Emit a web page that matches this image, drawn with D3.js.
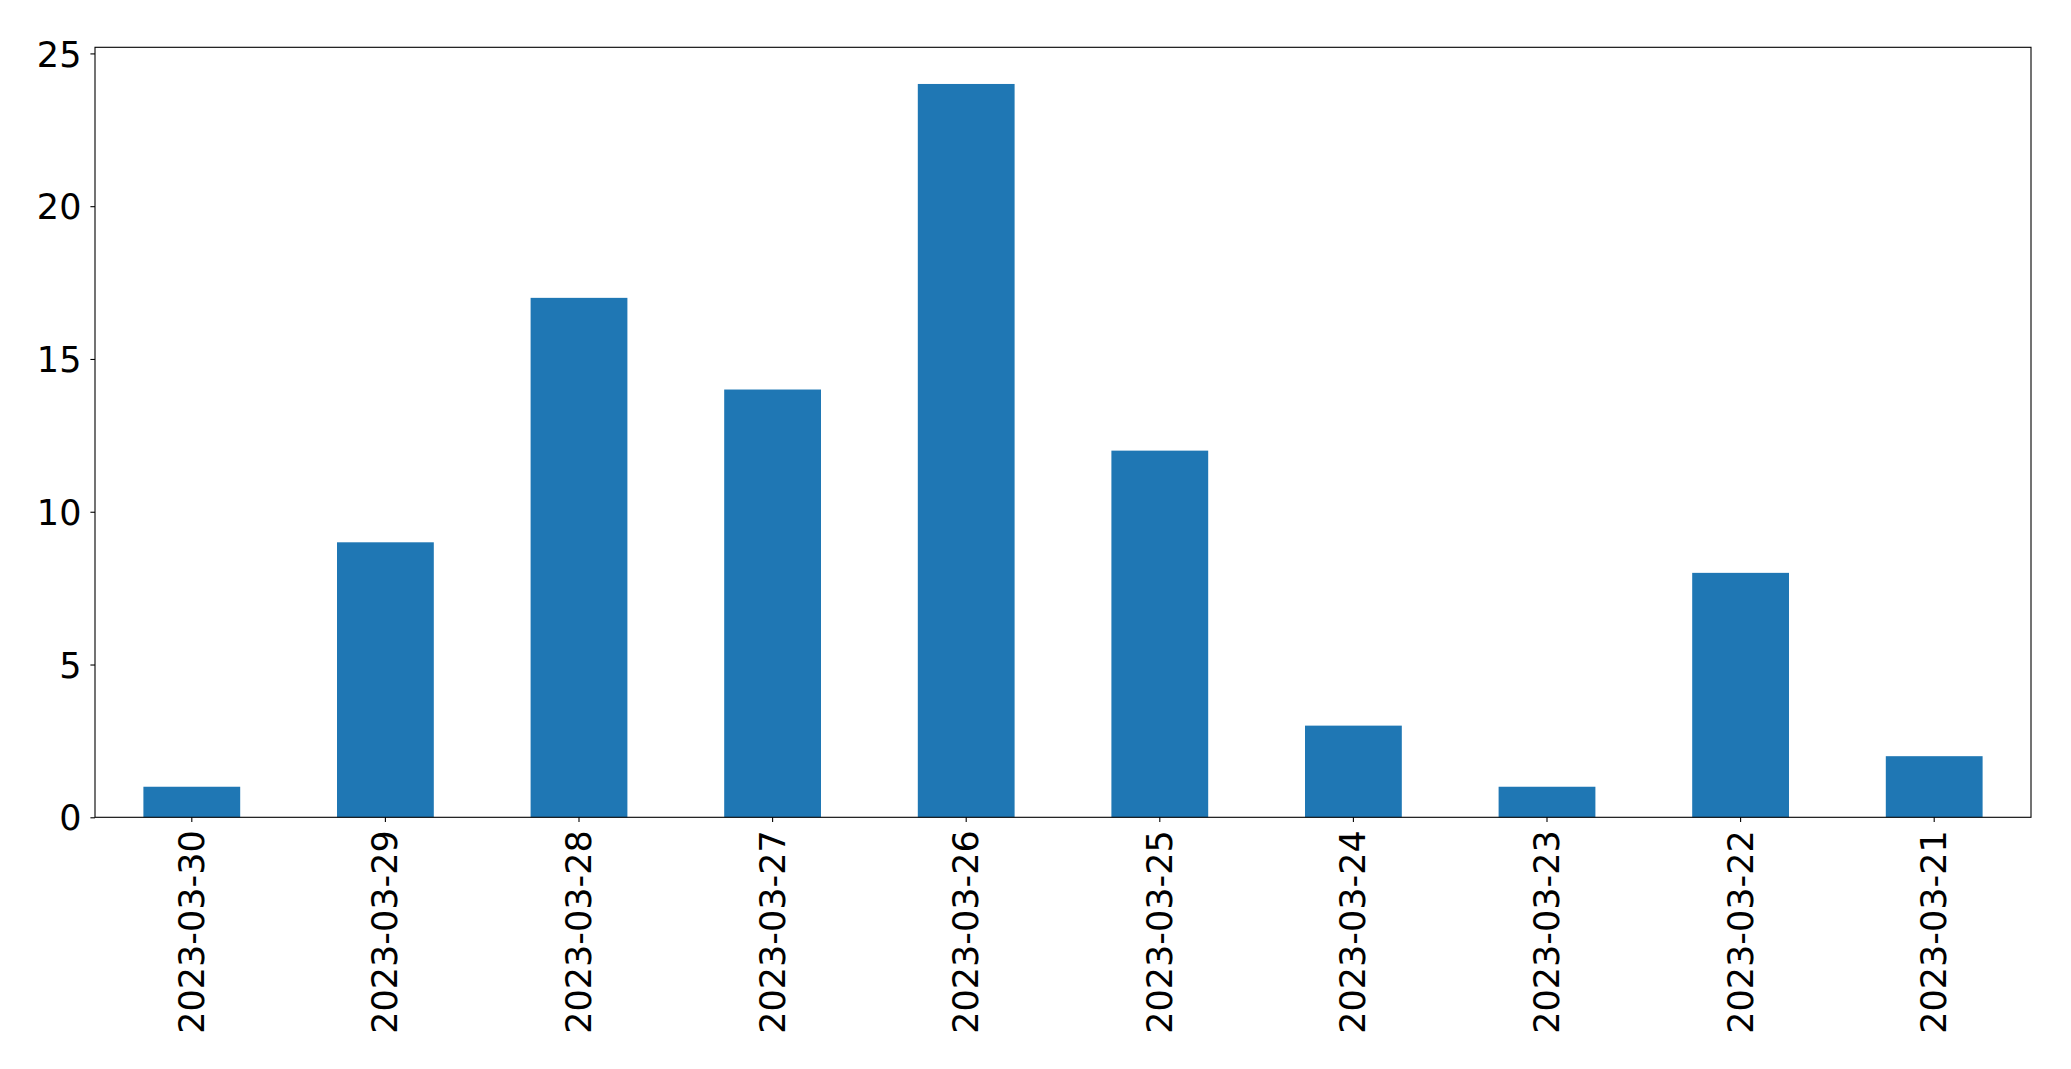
<!DOCTYPE html>
<html>
<head>
<meta charset="utf-8">
<script src="https://cdn.jsdelivr.net/npm/d3@7"></script>
<style>
  html, body { margin: 0; padding: 0; background: #fff; }
  svg { display: block; }
  text { font-family: "DejaVu Sans", sans-serif; fill: #000; }
</style>
</head>
<body>
<svg id="chart" width="2071" height="1069"></svg>
<script>
const categories = ["2023-03-30","2023-03-29","2023-03-28","2023-03-27","2023-03-26","2023-03-25","2023-03-24","2023-03-23","2023-03-22","2023-03-21"];
const values = [1, 9, 17, 14, 24, 12, 3, 1, 8, 2];
const yTicks = [0, 5, 10, 15, 20, 25];

const svg = d3.select("#chart");
const plotLeft = 95, plotRight = 2031, plotTop = 47.3, plotBottom = 817.3;
const fontSize = 35;

const x = d3.scaleBand().domain(categories).range([plotLeft, plotRight]).paddingInner(0.5).paddingOuter(0.25);
const y = d3.scaleLinear().domain([0, 25.2]).range([plotBottom, plotTop]);

svg.append("g").selectAll("rect").data(values).join("rect")
  .attr("x", (d, i) => x(categories[i]))
  .attr("width", x.bandwidth())
  .attr("y", d => y(d))
  .attr("height", d => y(0) - y(d))
  .attr("fill", "#1f77b4");

const yAxis = svg.append("g").attr("transform", `translate(${plotLeft},0)`)
  .call(d3.axisLeft(y).tickValues(yTicks).tickSize(4.6).tickPadding(9).tickFormat(d3.format("d")));
yAxis.select(".domain").remove();
yAxis.selectAll("line").attr("stroke", "#000").attr("stroke-width", 1.1);
yAxis.selectAll("text").attr("font-size", fontSize).attr("font-family", "DejaVu Sans").attr("dy", "0.36em");

const xAxis = svg.append("g").attr("transform", `translate(0,${plotBottom})`)
  .call(d3.axisBottom(x).tickSize(4.6).tickPadding(0));
xAxis.select(".domain").remove();
xAxis.selectAll("line").attr("stroke", "#000").attr("stroke-width", 1.1);
xAxis.selectAll("text")
  .attr("font-size", fontSize).attr("font-family", "DejaVu Sans")
  .attr("y", 0).attr("dy", null)
  .attr("text-anchor", "end")
  .attr("dominant-baseline", "central")
  .attr("transform", "translate(0,13) rotate(-90)");

svg.append("rect")
  .attr("x", plotLeft).attr("y", plotTop)
  .attr("width", plotRight - plotLeft).attr("height", plotBottom - plotTop)
  .attr("fill", "none").attr("stroke", "#000").attr("stroke-width", 1.1);
</script>
</body>
</html>
